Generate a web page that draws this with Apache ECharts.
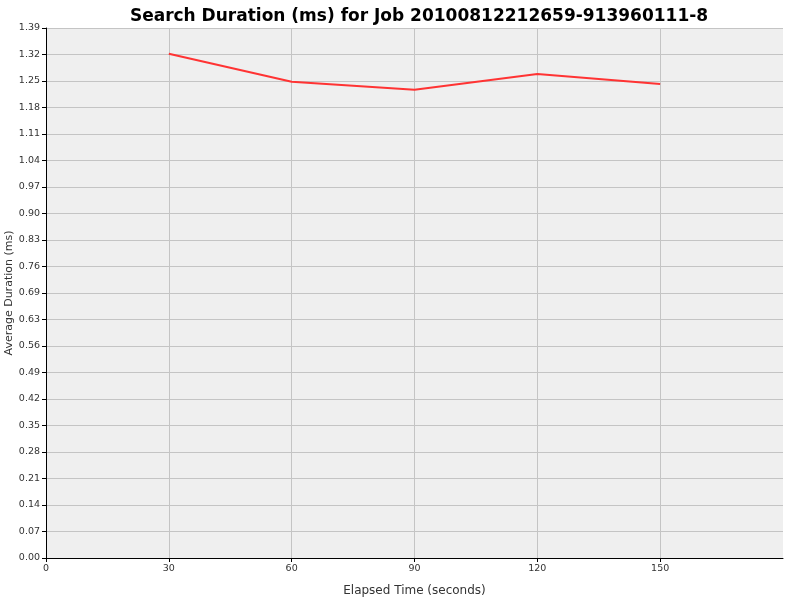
<!DOCTYPE html>
<html>
<head>
<meta charset="utf-8">
<script src="https://cdn.jsdelivr.net/npm/echarts@6/dist/echarts.min.js"></script>
<style>html,body{margin:0;padding:0;background:#fff}#c{width:800px;height:600px}</style>
</head>
<body>
<div id="c"></div>
<script>
var titleText = 'Search Duration (ms) for Job 20100812212659-913960111-8';
var elapsedSeconds = [30, 60, 90, 120, 150];
var avgDuration = [1.3225, 1.249, 1.228, 1.2692, 1.243];
var yTickLabels = ['0.00','0.07','0.14','0.21','0.28','0.35','0.42','0.49','0.56','0.63','0.69','0.76','0.83','0.90','0.97','1.04','1.11','1.18','1.25','1.32','1.39'];
var xTickLabels = ['0','30','60','90','120','150'];
var yMax = 1.39;
var yStep = yMax / 20;
var xTickValues = xTickLabels.map(Number);

var chart = echarts.init(document.getElementById('c'));
chart.setOption({
  animation: false,
  backgroundColor: '#ffffff',
  title: {
    text: titleText,
    left: 414, top: 3, textAlign: 'center',
    textStyle: {fontFamily: 'DejaVu Sans', fontWeight: 'bold', fontSize: 17, color: '#000'}
  },
  grid: {left: 46, right: 17, top: 28, bottom: 42, show: true, backgroundColor: '#efefef', borderWidth: 0,
    containLabel: false, outerBoundsMode: 'none'},
  xAxis: {
    type: 'value', min: 0, max: 180, interval: 30,
    name: 'Elapsed Time (seconds)', nameLocation: 'middle', nameGap: 27, nameMoveOverlap: false,
    nameTextStyle: {fontFamily: 'DejaVu Sans', fontSize: 12, color: '#333'},
    axisLine: {show: true, lineStyle: {color: '#000', width: 1}},
    axisTick: {show: true, length: 4, lineStyle: {color: '#000'}, customValues: xTickValues},
    axisLabel: {fontFamily: 'DejaVu Sans', fontSize: 9.5, color: '#333', margin: 6, customValues: xTickValues,
      formatter: function (v) { var i = Math.round(v / 30); return i < xTickLabels.length ? xTickLabels[i] : ''; }},
    splitLine: {show: true, lineStyle: {color: '#c4c4c4', width: 1}}
  },
  yAxis: {
    type: 'value', min: 0, max: yMax, interval: yStep,
    name: 'Average Duration (ms)', nameLocation: 'middle', nameGap: 31, nameRotate: 90, nameMoveOverlap: false,
    nameTextStyle: {fontFamily: 'DejaVu Sans', fontSize: 11, color: '#333'},
    axisLine: {show: true, lineStyle: {color: '#000', width: 1}},
    axisTick: {show: true, length: 4, lineStyle: {color: '#000'}},
    axisLabel: {fontFamily: 'DejaVu Sans', fontSize: 9.5, color: '#333', margin: 6,
      formatter: function (v) { return yTickLabels[Math.round(v / yStep)]; }},
    splitLine: {show: true, lineStyle: {color: '#c4c4c4', width: 1}}
  },
  series: [{
    type: 'line',
    data: elapsedSeconds.map(function (x, i) { return [x, avgDuration[i]]; }),
    symbol: 'none',
    lineStyle: {color: '#ff3333', width: 2},
    itemStyle: {color: '#ff3333'}
  }]
});
</script>
</body>
</html>
